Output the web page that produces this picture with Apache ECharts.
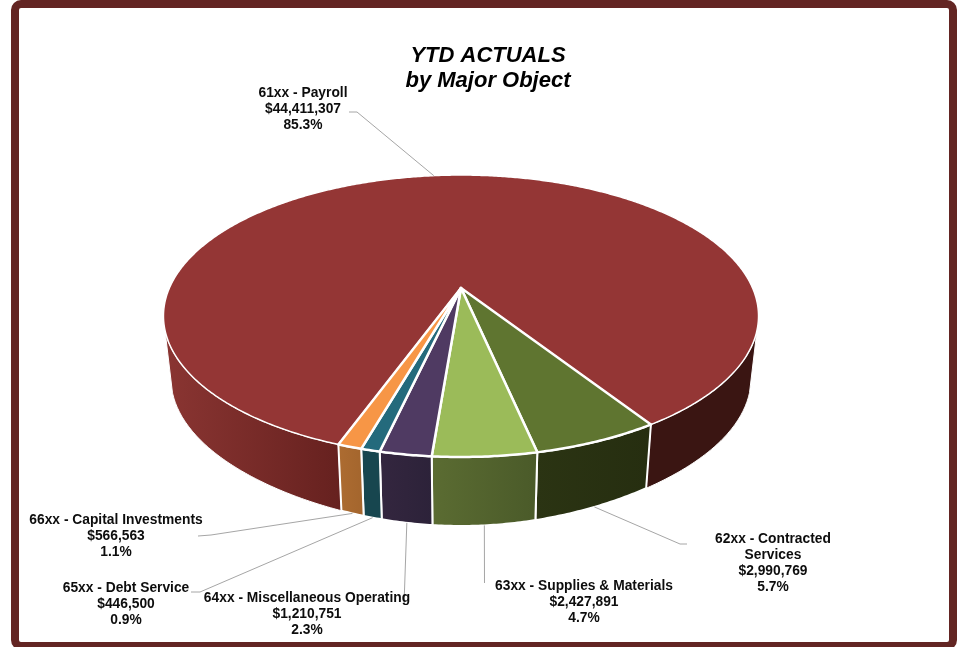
<!DOCTYPE html>
<html>
<head>
<meta charset="utf-8">
<style>html,body{margin:0;padding:0;background:#fff}#c{width:961px;height:647px}</style>
<script src="https://cdn.jsdelivr.net/npm/echarts@6/dist/echarts.min.js"></script>
</head>
<body>
<div id="c"></div>
<script>
// ---- data ----
const categories = ['61xx - Payroll', '62xx - Contracted\nServices', '63xx - Supplies & Materials',
  '64xx - Miscellaneous Operating', '65xx - Debt Service', '66xx - Capital Investments'];
const actuals = [44411307, 2990769, 2427891, 1210751, 446500, 566563];

// ---- styles ----
const topColors = ['#943635', '#5f7530', '#9bbb59', '#4f3a62', '#246a7c', '#f79646'];
const wallColors = [
  [['#8a3532', '#66211f'], ['#3a1512', '#3a1512']],
  [['#2b3413', '#262e10']],
  [['#5b6c32', '#4a5a29']],
  [['#34263f', '#2c2239']],
  [['#17464f', '#17464f']],
  [['#ad6c31', '#a3652d']]
];

// ---- layout ----
const firstSliceAngle = 200;
const apex = [461, 288];
const radiusX = 291.6, radiusY = 135.4, perspective = 0.1987;
const bottomShrink = 0.975, wallMinV = 0.29;
const labelCenters = [[303, 93], [773, 539.5], [584, 586.5], [307, 598.5], [126, 588.5], [116, 520.5]];
const leaderBends = [
  [[349, 112], [357, 112]],
  [[687, 544], [680, 544]],
  [[484.5, 583]],
  [[404, 605]],
  [[191, 592], [200, 592]],
  [[198, 536], [211, 535]]
];

const total = actuals.reduce((a, b) => a + b, 0);
const sliceStart = [];
actuals.reduce((acc, v, i) => { sliceStart[i] = acc; return acc + v / total * 360; }, firstSliceAngle);
const rad = d => d * Math.PI / 180;
function rimTop(deg) {
  const u = Math.sin(rad(deg)), v = -Math.cos(rad(deg)), w = 1 - perspective * v;
  return [apex[0] + radiusX * u / w, apex[1] + radiusY * v / w];
}
function rimBottom(deg) {
  const v = -Math.cos(rad(deg)), p = rimTop(deg);
  const depth = 62 + 7 * Math.pow(Math.max(v, 0), 8);
  return [apex[0] + (p[0] - apex[0]) * bottomShrink, p[1] + depth];
}
function arcAngles(a0, a1) {
  const out = [];
  const n = Math.max(2, Math.ceil((a1 - a0) / 0.5));
  for (let i = 0; i <= n; i++) out.push(a0 + (a1 - a0) * i / n);
  return out;
}
function renderSlice(params, api) {
  const i = params.dataIndex;
  const a0 = sliceStart[i], a1 = a0 + api.value(0) / total * 360;
  const angles = arcAngles(a0, a1);
  const children = [];
  // walls: contiguous visible stretches of the rim
  let runs = [], cur = null;
  angles.forEach(a => {
    if (-Math.cos(rad(a)) >= wallMinV) { if (!cur) { cur = []; runs.push(cur); } cur.push(a); }
    else cur = null;
  });
  runs.forEach((run, r) => {
    const cols = wallColors[i][r] || wallColors[i][0];
    const pts = run.map(rimTop).concat(run.slice().reverse().map(rimBottom));
    children.push({
      type: 'polygon', shape: { points: pts },
      style: {
        fill: new echarts.graphic.LinearGradient(0, 0, 1, 0, [{ offset: 0, color: cols[0] }, { offset: 1, color: cols[1] }]),
        stroke: '#ffffff', lineWidth: i === 0 ? 1 : 2, lineJoin: 'round'
      }
    });
  });
  children.push({
    type: 'polygon', shape: { points: [apex].concat(angles.map(rimTop)) },
    style: { fill: topColors[i], stroke: '#ffffff', lineWidth: i === 0 ? 1.5 : 2.5, lineJoin: 'round' }
  });
  return { type: 'group', children };
}
function renderLabel(params, api) {
  const i = params.dataIndex, value = api.value(0);
  const mid = sliceStart[i] + value / total * 180;
  const midV = -Math.cos(rad(mid));
  const anchor = midV > 0 ? rimBottom(mid) : rimTop(mid);
  const pts = leaderBends[i].concat([anchor]);
  const lines = categories[i].split('\n').concat(['$' + value.toLocaleString('en-US'), (value / total * 100).toFixed(1) + '%']);
  const children = [{
    type: 'polyline', shape: { points: pts },
    style: { fill: 'none', stroke: '#a6a6a6', lineWidth: 1 }
  }];
  lines.forEach((t, k) => children.push({
    type: 'text',
    style: {
      text: t, x: labelCenters[i][0], y: labelCenters[i][1] + k * 16,
      align: 'center', verticalAlign: 'middle',
      font: 'bold 13.8px "Liberation Sans", Arial, sans-serif', fill: '#0d0d0d'
    }
  }));
  return { type: 'group', children };
}
const seriesData = actuals.map((v, i) => ({ name: categories[i], value: [v] }));
const chart = echarts.init(document.getElementById('c'), null, { renderer: 'canvas', width: 961, height: 647 });
chart.setOption({
  animation: false,
  backgroundColor: '#ffffff',
  title: {
    text: 'YTD ACTUALS\nby Major Object', left: 483, top: 38, textAlign: 'center',
    textStyle: { fontFamily: '"Liberation Sans", Arial, sans-serif', fontSize: 22, fontWeight: 'bold', fontStyle: 'italic', color: '#000', lineHeight: 25 }
  },
  graphic: [{
    type: 'rect', silent: true, z: 100,
    shape: { x: 15, y: 4, width: 938, height: 642, r: 6 },
    style: { fill: 'none', stroke: '#632523', lineWidth: 8 }
  }],
  series: [
    { type: 'custom', coordinateSystem: 'none', silent: true, clip: false, renderItem: renderSlice, data: seriesData, z: 2 },
    { type: 'custom', coordinateSystem: 'none', silent: true, clip: false, renderItem: renderLabel, data: seriesData, z: 3 }
  ]
});
</script>
</body>
</html>
